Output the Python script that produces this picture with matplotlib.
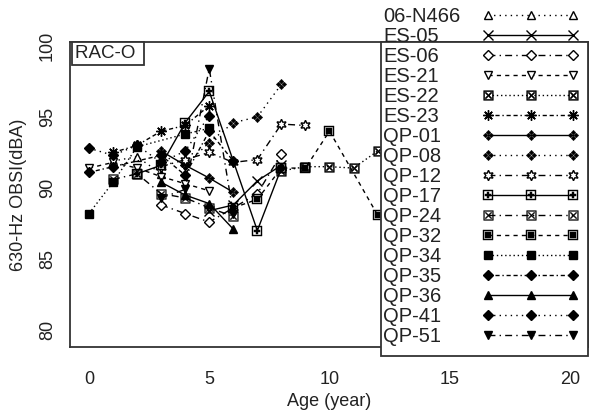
import matplotlib
matplotlib.use("Agg")
import matplotlib.pyplot as plt
from matplotlib.lines import Line2D
from matplotlib.patches import Rectangle

plt.rcParams['font.family'] = ['Liberation Sans', 'DejaVu Sans']

# ---------------- data ----------------
series_names = ["06-N466", "ES-05", "ES-06", "ES-21", "ES-22", "ES-23",
                "QP-01", "QP-08", "QP-12", "QP-17", "QP-24", "QP-32",
                "QP-34", "QP-35", "QP-36", "QP-41", "QP-51"]

age_n466 = [1, 2, 3];                  obsi_n466 = [91.9, 92.2, 91.0]
age_es05 = [5, 6, 7, 8];               obsi_es05 = [88.4, 88.8, 90.5, 91.6]
age_es06 = [3, 4, 5, 7, 8];            obsi_es06 = [88.8, 88.2, 87.6, 89.6, 92.4]
age_es21 = [0, 1, 2, 3, 4, 5];         obsi_es21 = [91.4, 91.8, 91.4, 90.8, 90.3, 89.8]
age_es22 = [8, 9, 10, 11, 12];         obsi_es22 = [91.2, 91.5, 91.5, 91.4, 92.6]
age_es23 = [1, 2, 3, 4, 5];            obsi_es23 = [92.5, 93.0, 94.0, 94.4, 95.8]
age_qp01 = [3, 4, 5, 6];               obsi_qp01 = [92.6, 91.6, 90.7, 89.7]
age_qp08 = [4, 5, 6, 7, 8];            obsi_qp08 = [91.6, 93.2, 94.6, 95.0, 97.3]
age_qp12 = [3, 4, 5, 6, 7, 8, 9];      obsi_qp12 = [91.5, 92.0, 92.5, 91.8, 92.0, 94.5, 94.4]
age_qp17 = [2, 3, 4, 5, 7, 8];         obsi_qp17 = [91.0, 91.6, 94.6, 96.8, 87.0, 91.4]
age_qp24 = [1, 2, 3, 4, 5, 6];         obsi_qp24 = [90.6, 91.0, 89.6, 89.3, 88.6, 88.0]
age_qp32 = [6, 7, 8, 9, 10, 12];       obsi_qp32 = [88.6, 89.2, 91.4, 91.4, 94.0, 88.1]
age_qp34 = [0, 1, 2, 4, 5];            obsi_qp34 = [88.2, 90.4, 92.9, 93.8, 94.2]
age_qp35 = [0, 1, 3, 4, 5, 6];         obsi_qp35 = [91.1, 91.5, 92.3, 90.9, 94.0, 91.9]
age_qp36 = [3, 4, 5, 6];               obsi_qp36 = [90.4, 89.5, 88.9, 87.1]
age_qp41 = [0, 1, 2, 3, 4, 5];         obsi_qp41 = [92.8, 92.3, 93.0, 91.8, 92.6, 95.1]
age_qp51 = [3, 4, 5, 6];               obsi_qp51 = [89.3, 89.9, 98.4, 88.2]

series_ages = [age_n466, age_es05, age_es06, age_es21, age_es22, age_es23,
               age_qp01, age_qp08, age_qp12, age_qp17, age_qp24, age_qp32,
               age_qp34, age_qp35, age_qp36, age_qp41, age_qp51]
series_vals = [obsi_n466, obsi_es05, obsi_es06, obsi_es21, obsi_es22, obsi_es23,
               obsi_qp01, obsi_qp08, obsi_qp12, obsi_qp17, obsi_qp24, obsi_qp32,
               obsi_qp34, obsi_qp35, obsi_qp36, obsi_qp41, obsi_qp51]

x_ticks = [0, 5, 10, 15, 20]
y_ticks = [80, 85, 90, 95, 100]
panel_label = "RAC-O "

# ---------------- styles ----------------
dot_a = (0, (1, 3))
dot_b = (0, (1, 2))
dotdash = (0, (5, 3, 1, 3))
dashed = (0, (3, 3))
dashdashdot = (0, (3, 2, 3, 2, 1, 2))
W, K = 'white', 'black'
styles = [
    dict(marker='^', ls=dot_a, mfc=W, ms=5.5, mew=1.0),
    dict(marker='x', ls='-', mfc=K, ms=6.5, mew=1.0),
    dict(marker='D', ls=dotdash, mfc=W, ms=5, mew=1.0),
    dict(marker='v', ls=dashed, mfc=W, ms=5.5, mew=1.0),
    dict(marker='$\u22A0$', ls=dot_b, mfc=K, ms=7, mew=0.3),
    dict(marker=(8, 2, 0), ls=dashdashdot, mfc=K, ms=7.5, mew=1.0),
    dict(marker='$\u2756$', ls='-', mfc=K, ms=7.5, mew=0.3),
    dict(marker='$\u2756$', ls=dot_a, mfc=K, ms=7.5, mew=0.3),
    dict(marker=(6, 1, 0), ls=dotdash, mfc=W, ms=7.5, mew=1.0),
    dict(marker='$\u229E$', ls='-', mfc=K, ms=7, mew=0.3),
    dict(marker='$\u2612$', ls=dotdash, mfc=K, ms=7, mew=0.3),
    dict(marker='$\u25A3$', ls=dashed, mfc=K, ms=7, mew=0.3),
    dict(marker='s', ls=dot_b, mfc=K, ms=5.5, mew=1.0),
    dict(marker='D', ls=dashdashdot, mfc=K, ms=5, mew=1.0),
    dict(marker='^', ls='-', mfc=K, ms=5.5, mew=1.0),
    dict(marker='D', ls=dot_a, mfc=K, ms=5.5, mew=1.0),
    dict(marker='v', ls=dotdash, mfc=K, ms=5.5, mew=1.0),
]

FW, FH = 590, 419
fig = plt.figure(figsize=(5.9, 4.19), dpi=100)
ax = fig.add_axes([70 / FW, 1 - 347 / FH, (588 - 70) / FW, (347 - 42) / FH])

handles = []
for ages, vals, st in zip(series_ages, series_vals, styles):
    h, = ax.plot(ages, vals, color=K, lw=1.0, linestyle=st['ls'],
                 marker=st['marker'], markersize=st['ms'],
                 markerfacecolor=st['mfc'], markeredgecolor=K,
                 markeredgewidth=st['mew'], clip_on=False, zorder=3)
    handles.append(h)

ax.set_xlim(-0.79, 20.75)
ax.set_ylim(78.8, 100.28)
ax.set_xticks(x_ticks)
ax.set_yticks(y_ticks)
ax.tick_params(length=0, labelsize=13, colors='#222222')
ax.tick_params(axis='x', pad=17)
ax.tick_params(axis='y', pad=10)
for lab in ax.get_yticklabels():
    lab.set_rotation(90)
    lab.set_va('center')
for s in ax.spines.values():
    s.set_color('#333333')
    s.set_linewidth(1.3)

ax.set_xlabel("Age (year)", fontsize=13, color='#222222')
ax.set_ylabel("630-Hz OBSI(dBA)", fontsize=13, color='#222222')
ax.xaxis.set_label_coords(0.5, -0.15)
ax.yaxis.set_label_coords(-0.083, 0.5)

ax.text(0.01, 0.99, panel_label, transform=ax.transAxes, ha='left', va='top',
        fontsize=13.5, color='#222222', zorder=5,
        bbox=dict(boxstyle='square,pad=0.15', fc='white', ec='#333333', lw=1.3))

# legend frame (covers the right part of the axes bottom)
fig.add_artist(Rectangle((381 / FW, 1 - 356 / FH), (588 - 381) / FW, (356 - 42) / FH,
                         transform=fig.transFigure, facecolor='white',
                         edgecolor='#333333', lw=1.3, zorder=1))

fs = 14.5
top = 1 - 7.0 / FH
blank = [Line2D([], [], linestyle='none') for _ in series_names]
fig.legend(blank, series_names, loc='upper left', bbox_to_anchor=(383 / FW, top),
           handlelength=0, handletextpad=0, borderpad=0, borderaxespad=0,
           labelspacing=0.05, frameon=False, fontsize=fs, labelcolor='#222222')
fig.legend(handles, [''] * len(handles), loc='upper left',
           bbox_to_anchor=(482 / FW, top), handlelength=4.83, handletextpad=0,
           borderpad=0, borderaxespad=0, labelspacing=0.05, frameon=False,
           fontsize=fs, numpoints=3)

fig.savefig("out.png", dpi=100)
